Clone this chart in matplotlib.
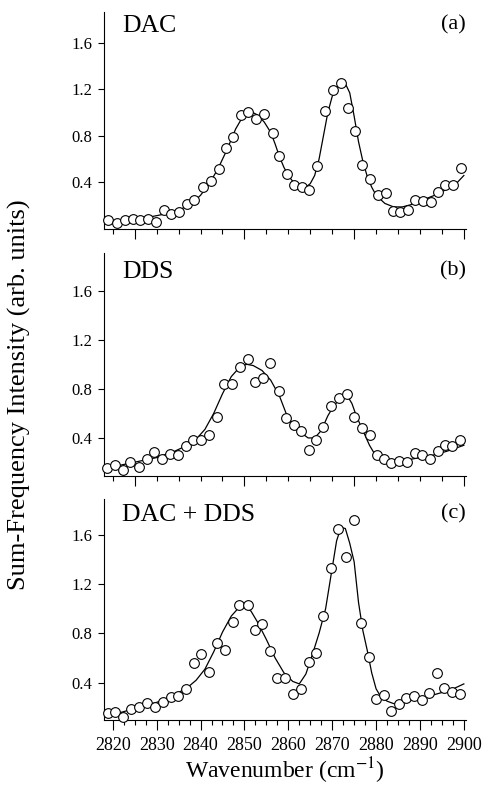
import matplotlib
matplotlib.use('Agg')
import matplotlib.pyplot as plt
from matplotlib.ticker import MultipleLocator

plt.rcParams['font.family'] = ['Liberation Serif', 'DejaVu Serif']
plt.rcParams['mathtext.fontset'] = 'stix'

# (a) DAC
dac_x = [2818.9, 2821.0, 2822.7, 2824.5, 2826.3, 2828.0, 2829.9, 2831.6, 2833.3, 2835.0,
         2836.8, 2838.6, 2840.5, 2842.4, 2844.1, 2845.8, 2847.5, 2849.2, 2850.9, 2852.7,
         2854.5, 2856.4, 2857.9, 2859.6, 2861.3, 2863.2, 2864.8, 2866.6, 2868.3, 2870.1,
         2871.9, 2873.6, 2875.3, 2876.9, 2878.7, 2880.4, 2882.2, 2883.8, 2885.5, 2887.2,
         2888.9, 2890.7, 2892.5, 2894.1, 2895.8, 2897.6, 2899.4]
dac_y = [0.08, 0.05, 0.08, 0.09, 0.08, 0.085, 0.064, 0.165, 0.128, 0.145,
         0.217, 0.251, 0.36, 0.415, 0.518, 0.696, 0.788, 0.983, 1.003, 0.946,
         0.992, 0.826, 0.624, 0.475, 0.38, 0.357, 0.337, 0.538, 1.012, 1.198,
         1.256, 1.041, 0.845, 0.552, 0.432, 0.294, 0.309, 0.159, 0.15, 0.165,
         0.251, 0.245, 0.231, 0.314, 0.38, 0.38, 0.524]
dac_fit_x = [2818, 2820, 2824, 2828, 2832, 2835, 2838, 2840, 2842, 2844,
             2846, 2848, 2850, 2851.5, 2853, 2854.5, 2856, 2857, 2858, 2859,
             2860, 2861, 2862, 2863, 2864, 2865, 2866, 2867, 2868, 2869,
             2870, 2871, 2872, 2873, 2874, 2875, 2876, 2877, 2878, 2879,
             2880, 2882, 2884, 2886, 2888, 2890, 2892, 2894, 2896, 2898, 2900]
dac_fit_y = [0.07, 0.07, 0.08, 0.10, 0.13, 0.16, 0.22, 0.29, 0.39, 0.52,
             0.68, 0.86, 0.99, 1.01, 0.98, 0.92, 0.83, 0.73, 0.62, 0.53,
             0.46, 0.41, 0.38, 0.36, 0.36, 0.39, 0.46, 0.60, 0.80, 1.00,
             1.14, 1.22, 1.26, 1.25, 1.17, 0.97, 0.75, 0.58, 0.45, 0.36,
             0.29, 0.22, 0.19, 0.19, 0.21, 0.24, 0.27, 0.30, 0.34, 0.38, 0.46]

# (b) DDS
dds_x = [2818.7, 2820.6, 2822.3, 2824.0, 2826.0, 2827.8, 2829.5, 2831.3, 2833.0, 2834.8,
         2836.6, 2838.3, 2840.2, 2841.9, 2843.8, 2845.4, 2847.2, 2848.9, 2850.7, 2852.3,
         2854.2, 2855.9, 2857.8, 2859.5, 2861.2, 2862.9, 2864.6, 2866.3, 2868.0, 2869.8,
         2871.6, 2873.3, 2875.0, 2876.7, 2878.5, 2880.1, 2881.9, 2883.5, 2885.2, 2887.1,
         2888.8, 2890.5, 2892.2, 2894.0, 2895.6, 2897.4, 2899.2]
dds_y = [0.156, 0.183, 0.135, 0.205, 0.164, 0.229, 0.284, 0.229, 0.273, 0.259,
         0.338, 0.386, 0.381, 0.427, 0.568, 0.839, 0.839, 0.977, 1.047, 0.855,
         0.885, 1.009, 0.779, 0.563, 0.508, 0.46, 0.30, 0.381, 0.489, 0.657,
         0.725, 0.758, 0.568, 0.481, 0.427, 0.259, 0.229, 0.197, 0.216, 0.205,
         0.278, 0.265, 0.229, 0.292, 0.346, 0.332, 0.386]
dds_fit_x = [2818, 2822, 2826, 2830, 2834, 2837, 2839, 2841, 2843, 2845,
             2847, 2849, 2850.5, 2852, 2854, 2856, 2858, 2859.5, 2861, 2863,
             2864.5, 2866, 2867.5, 2869, 2870.5, 2872, 2873.5, 2874.5, 2875.5, 2876.5,
             2877.5, 2878.5, 2879.5, 2881, 2883, 2885, 2887, 2890, 2893, 2896, 2900]
dds_fit_y = [0.15, 0.18, 0.21, 0.24, 0.29, 0.34, 0.39, 0.47, 0.60, 0.76,
             0.90, 0.98, 1.00, 0.99, 0.95, 0.87, 0.74, 0.60, 0.51, 0.44,
             0.40, 0.40, 0.46, 0.58, 0.67, 0.72, 0.74, 0.68, 0.58, 0.50,
             0.42, 0.34, 0.28, 0.24, 0.21, 0.21, 0.22, 0.24, 0.26, 0.29, 0.34]

# (c) DAC + DDS
mix_x = [2818.9, 2820.6, 2822.4, 2824.2, 2826.0, 2827.9, 2829.7, 2831.5, 2833.2, 2834.9,
         2836.7, 2838.5, 2840.2, 2841.9, 2843.7, 2845.5, 2847.3, 2848.8, 2850.7, 2852.4,
         2854.1, 2855.8, 2857.5, 2859.3, 2861.0, 2862.9, 2864.6, 2866.3, 2868.0, 2869.7,
         2871.4, 2873.2, 2875.0, 2876.6, 2878.4, 2880.0, 2881.7, 2883.5, 2885.3, 2886.9,
         2888.7, 2890.4, 2892.1, 2893.8, 2895.5, 2897.2, 2899.1]
mix_y = [0.151, 0.159, 0.118, 0.183, 0.20, 0.232, 0.205, 0.24, 0.281, 0.292,
         0.351, 0.557, 0.633, 0.484, 0.725, 0.665, 0.89, 1.031, 1.031, 0.828,
         0.877, 0.66, 0.441, 0.435, 0.308, 0.349, 0.565, 0.638, 0.944, 1.329,
         1.646, 1.416, 1.722, 0.882, 0.611, 0.267, 0.30, 0.172, 0.227, 0.278,
         0.292, 0.259, 0.319, 0.476, 0.354, 0.321, 0.305]
mix_fit_x = [2818, 2822, 2826, 2830, 2834, 2837, 2839, 2841, 2843, 2845,
             2847, 2848.5, 2850, 2851.5, 2853, 2855, 2857, 2859, 2861, 2862.5,
             2864, 2865.5, 2867, 2868.5, 2870, 2871, 2872, 2873, 2874, 2875,
             2876, 2877, 2878, 2879, 2880, 2881, 2882.5, 2884, 2886, 2888,
             2891, 2894, 2897, 2900]
mix_fit_y = [0.13, 0.16, 0.20, 0.24, 0.30, 0.36, 0.42, 0.51, 0.65, 0.81,
             0.94, 1.00, 1.02, 0.98, 0.89, 0.75, 0.60, 0.48, 0.41, 0.39,
             0.47, 0.63, 0.80, 1.00, 1.33, 1.55, 1.66, 1.65, 1.53, 1.38,
             1.05, 0.82, 0.66, 0.48, 0.35, 0.29, 0.25, 0.23, 0.24, 0.26,
             0.28, 0.31, 0.34, 0.39]

panels = [
    ('DAC', '(a)', dac_x, dac_y, dac_fit_x, dac_fit_y, [0.2149, 0.7101, 0.748, 0.2751], (0.0, 1.868), 0.985),
    ('DDS', '(b)', dds_x, dds_y, dds_fit_x, dds_fit_y, [0.2149, 0.3975, 0.748, 0.2819], (0.09, 1.905), 0.965),
    ('DAC + DDS', '(c)', mix_x, mix_y, mix_fit_x, mix_fit_y, [0.2149, 0.0886, 0.748, 0.2798], (0.097, 1.89), 0.975),
]

fig = plt.figure(figsize=(4.84, 7.90), dpi=100)

for i, (name, tag, x, y, fx, fy, pos, ylim, ty) in enumerate(panels):
    ax = fig.add_axes(pos)
    ax.plot(fx, fy, color='black', lw=0.9, zorder=2)
    ax.plot(x, y, 'o', ms=7, mfc='white', mec='black', mew=0.8, zorder=3, clip_on=False)
    ax.set_xlim(2818, 2900.5)
    ax.set_ylim(*ylim)
    ax.set_yticks([0.4, 0.8, 1.2, 1.6])
    ax.set_yticklabels(['0.4', '0.8', '1.2', '1.6'])
    ax.spines['top'].set_visible(False)
    ax.spines['right'].set_visible(False)
    ax.spines['left'].set_linewidth(0.8)
    ax.spines['bottom'].set_linewidth(0.8)
    ax.tick_params(axis='y', direction='out', length=4.5, width=0.8, labelsize=12, pad=4)
    if i < 2:
        ax.xaxis.set_major_locator(MultipleLocator(25))
        ax.xaxis.set_minor_locator(MultipleLocator(5))
        ax.tick_params(axis='x', which='both', labelbottom=False)
    else:
        ax.xaxis.set_major_locator(MultipleLocator(10))
        ax.xaxis.set_minor_locator(MultipleLocator(2.5))
        ax.tick_params(axis='x', which='major', labelsize=13, pad=5)
    ax.tick_params(axis='x', which='major', direction='out', length=7, width=0.8)
    ax.tick_params(axis='x', which='minor', direction='out', length=3.5, width=0.8)
    ax.text(0.05, ty, name, transform=ax.transAxes, fontsize=18.5, ha='left', va='top')
    ax.text(1.0, ty, tag, transform=ax.transAxes, fontsize=16, ha='right', va='top')

fig.text(0.04, 0.5, 'Sum-Frequency Intensity (arb. units)', rotation=90,
         fontsize=19, ha='center', va='center')
fig.text(0.589, 0.024, 'Wavenumber (cm$^{\\mathrm{-1}}$)', fontsize=17, ha='center', va='center')

fig.savefig('out.png', dpi=100)
